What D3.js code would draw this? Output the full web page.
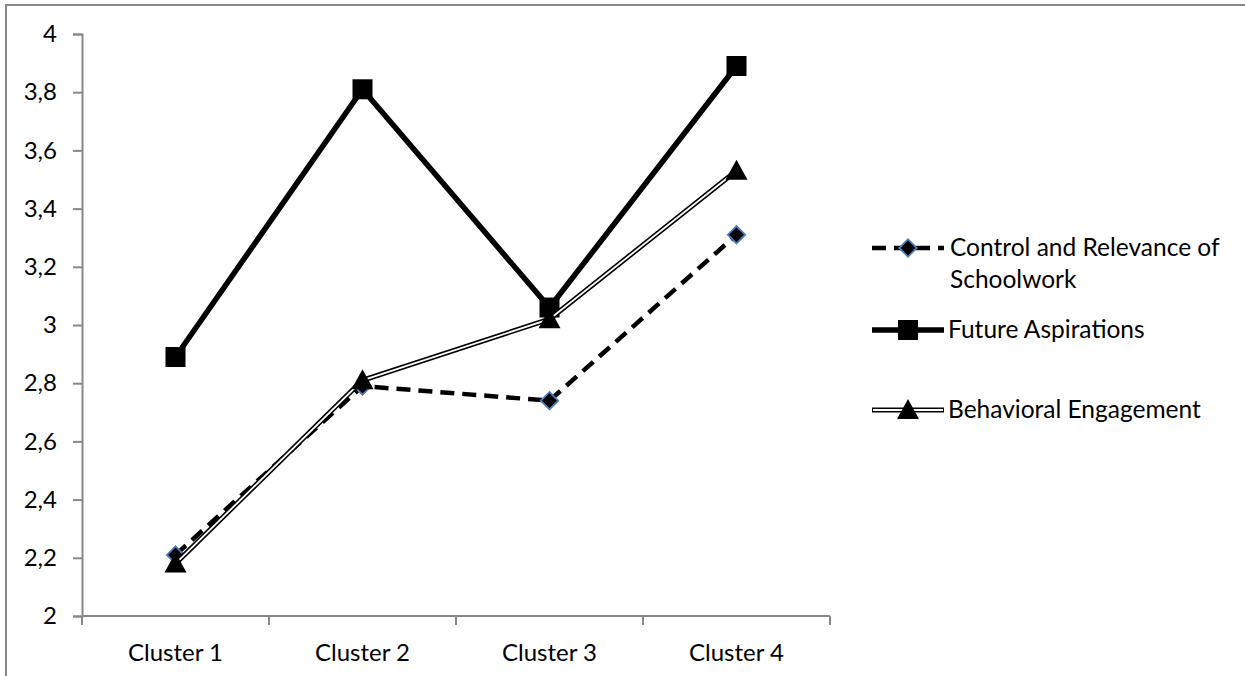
<!DOCTYPE html>
<html><head><meta charset="utf-8">
<script src="https://cdn.jsdelivr.net/npm/d3@7"></script>
<style>body{margin:0;background:#fff}svg{display:block}text{font-family:Lato,"Open Sans",sans-serif;fill:#000}</style>
</head><body><svg id="c" width="1245" height="676"></svg>
<script>
const categories = ["Cluster 1","Cluster 2","Cluster 3","Cluster 4"];
const control = [2.21, 2.79, 2.74, 3.31];
const future = [2.89, 3.81, 3.06, 3.89];
const behavioral = [2.18, 2.81, 3.02, 3.53];
const yTicks = [2,2.2,2.4,2.6,2.8,3,3.2,3.4,3.6,3.8,4];
const seriesNames = ["Control and Relevance of Schoolwork","Future Aspirations","Behavioral Engagement"];

const svg = d3.select("#c");
svg.append("rect").attr("x",6).attr("y",5).attr("width",1245).attr("height",700)
  .attr("fill","#fff").attr("stroke","#888").attr("stroke-width",2);

const pLeft=82,pRight=830,pTop=34,pBottom=616;
const x = d3.scaleBand().domain(categories).range([pLeft,pRight]);
const y = d3.scaleLinear().domain([2,4]).range([pBottom,pTop]);
const cx = c => x(c)+x.bandwidth()/2;
const fmt = d => String(+d.toFixed(1)).replace(".",",");

const gy = svg.append("g").attr("transform",`translate(${pLeft},0)`)
  .call(d3.axisLeft(y).tickValues(yTicks).tickFormat(fmt).tickSize(9).tickPadding(16));
const gx = svg.append("g").attr("transform",`translate(0,${pBottom})`)
  .call(d3.axisBottom(x).tickSize(0).tickPadding(28));
[gy,gx].forEach(g=>{
  g.attr("font-size",null).attr("font-family",null);
  g.selectAll("path.domain").attr("stroke","#888").attr("stroke-width",2);
  g.selectAll(".tick line").attr("stroke","#888").attr("stroke-width",2);
  g.selectAll("text").style("font-size","24px").style("font-family","Lato, 'Open Sans', sans-serif");
});
gx.select("path.domain").attr("d",`M${pLeft},0H${pRight}`);
svg.append("g").selectAll("line").data(d3.range(categories.length+1)).join("line")
  .attr("x1",i=>pLeft+i*x.bandwidth()).attr("x2",i=>pLeft+i*x.bandwidth())
  .attr("y1",pBottom).attr("y2",pBottom+9).attr("stroke","#888").attr("stroke-width",2);

const line = d3.line().x((d,i)=>cx(categories[i])).y(d=>y(d));
const tri = "M0,-11L11,9L-11,9Z";
const dia = d3.symbol(d3.symbolSquare,150)();

// Control
svg.append("path").attr("d",line(control)).attr("fill","none").attr("stroke","#000")
  .attr("stroke-width",4.5).attr("stroke-dasharray","14,8");
svg.append("g").selectAll("path").data(control).join("path")
  .attr("d",dia)
  .attr("transform",(d,i)=>`translate(${cx(categories[i])},${y(d)}) rotate(45)`)
  .attr("fill","#000").attr("stroke","#4a7ebb").attr("stroke-width",1.8);
// Future
svg.append("path").attr("d",line(future)).attr("fill","none").attr("stroke","#000").attr("stroke-width",5.5);
svg.append("g").selectAll("rect").data(future).join("rect")
  .attr("x",(d,i)=>cx(categories[i])-10).attr("y",d=>y(d)-10).attr("width",20).attr("height",20).attr("fill","#000");
// Behavioral
svg.append("path").attr("d",line(behavioral)).attr("fill","none").attr("stroke","#000").attr("stroke-width",5);
svg.append("path").attr("d",line(behavioral)).attr("fill","none").attr("stroke","#fff").attr("stroke-width",1.8);
svg.append("g").selectAll("path").data(behavioral).join("path")
  .attr("d",tri)
  .attr("transform",(d,i)=>`translate(${cx(categories[i])},${y(d)})`).attr("fill","#000");

// Legend
const lg = svg.append("g");
const lx0=872,lx1=944,lm=908,fs="24.5px";
lg.append("line").attr("x1",lx0).attr("x2",lx1).attr("y1",248).attr("y2",248)
  .attr("stroke","#000").attr("stroke-width",4.5).attr("stroke-dasharray","14,8");
lg.append("path").attr("d",dia).attr("transform",`translate(${lm},248) rotate(45)`)
  .attr("fill","#000").attr("stroke","#4a7ebb").attr("stroke-width",1.8);
lg.append("text").attr("x",950).attr("y",256).style("font-size",fs).text("Control and Relevance of");
lg.append("text").attr("x",950).attr("y",288).style("font-size",fs).text("Schoolwork");
lg.append("line").attr("x1",lx0).attr("x2",lx1).attr("y1",330).attr("y2",330).attr("stroke","#000").attr("stroke-width",5.5);
lg.append("rect").attr("x",lm-10).attr("y",320).attr("width",20).attr("height",20).attr("fill","#000");
lg.append("text").attr("x",948).attr("y",338).style("font-size",fs).text("Future Aspirations");
lg.append("line").attr("x1",lx0).attr("x2",lx1).attr("y1",410).attr("y2",410).attr("stroke","#000").attr("stroke-width",5);
lg.append("line").attr("x1",lx0+1).attr("x2",lx1-1).attr("y1",410).attr("y2",410).attr("stroke","#fff").attr("stroke-width",1.8);
lg.append("path").attr("d",tri).attr("transform",`translate(${lm},410)`).attr("fill","#000");
lg.append("text").attr("x",948).attr("y",418).style("font-size",fs).text("Behavioral Engagement");
</script></body></html>
